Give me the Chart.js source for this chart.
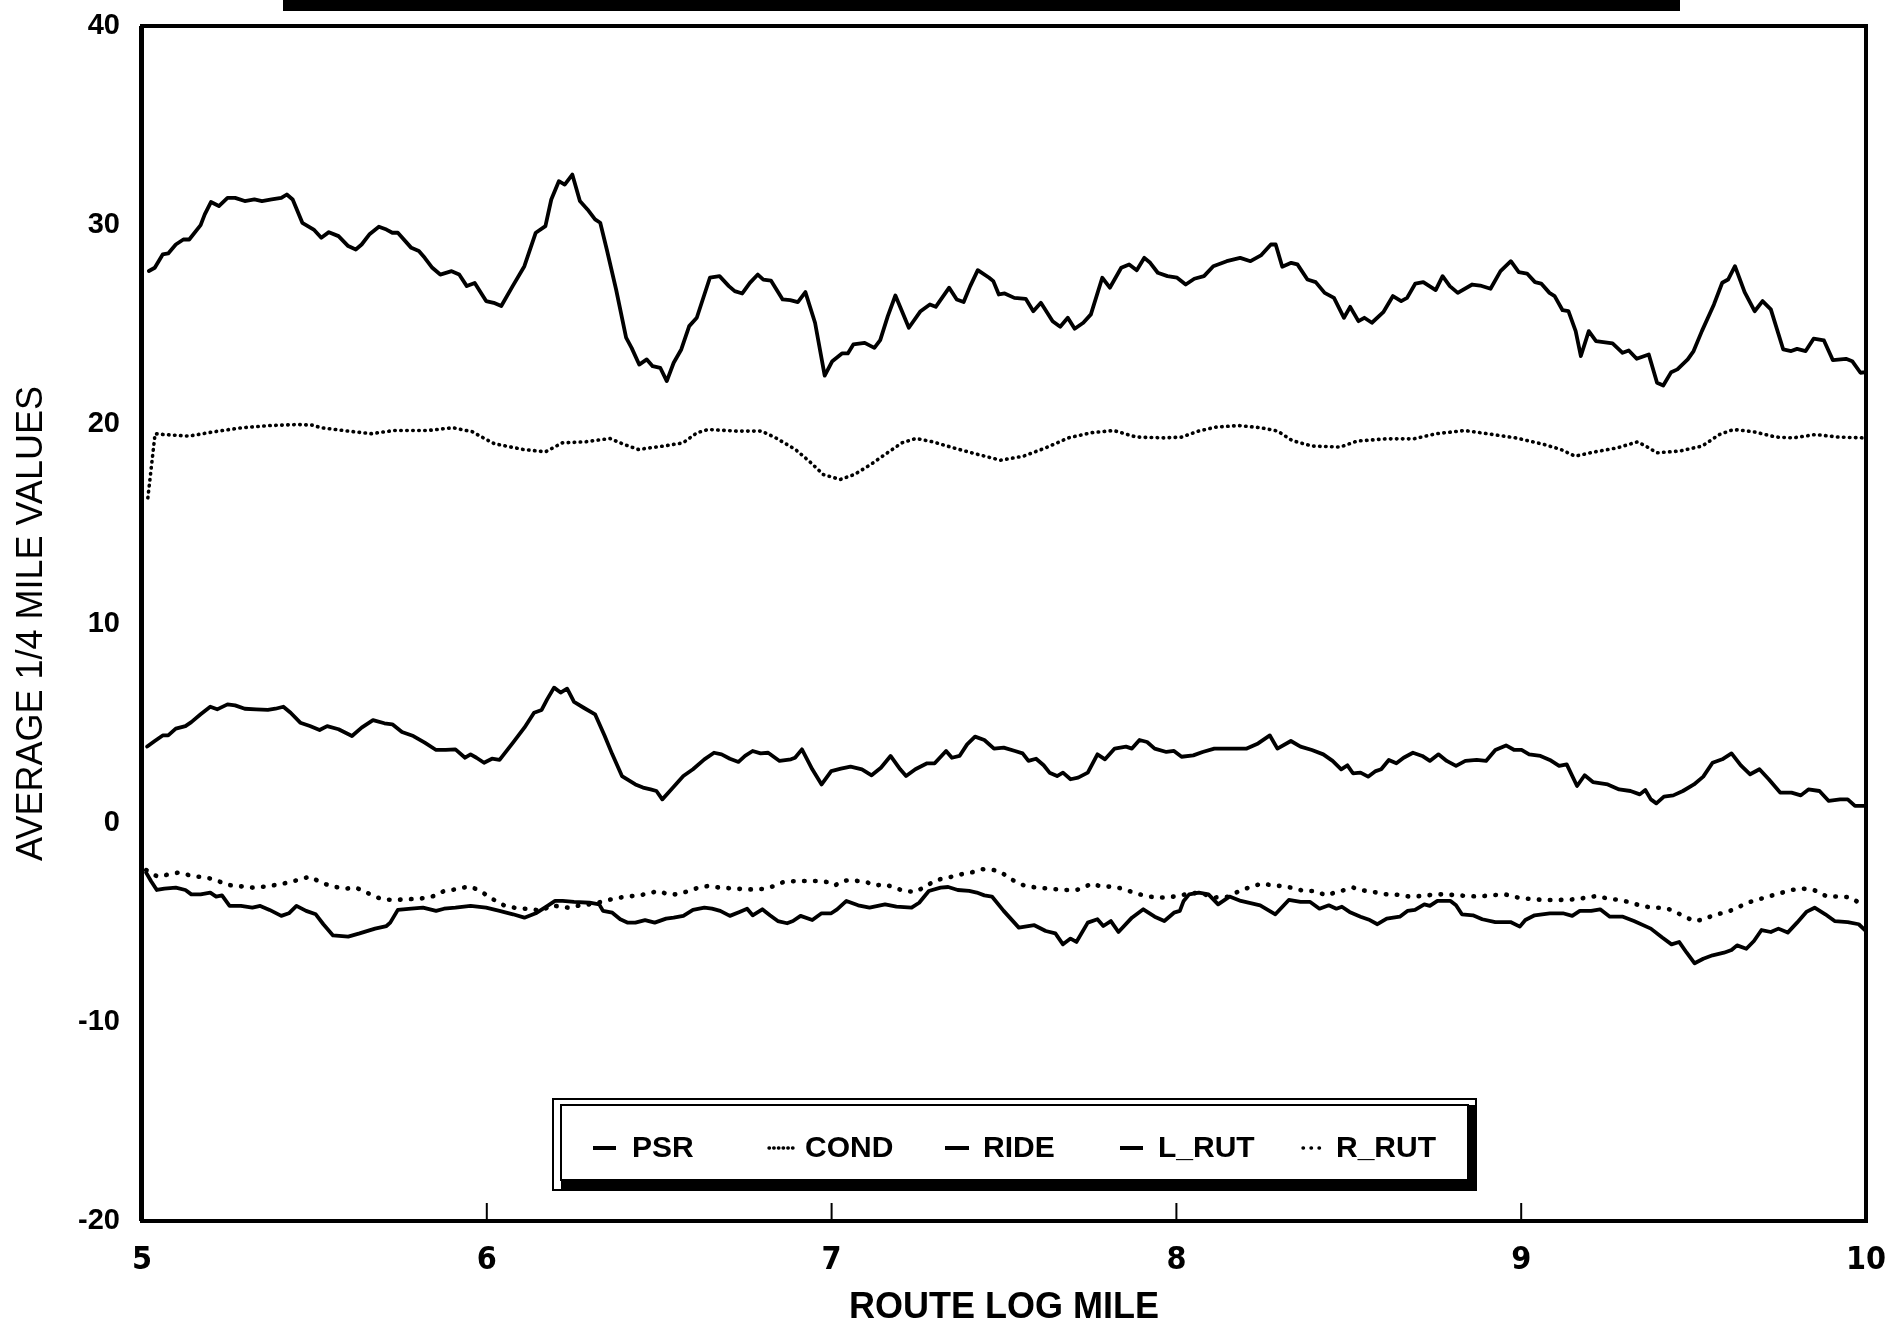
<!DOCTYPE html>
<html><head><meta charset="utf-8">
<script src="https://cdn.jsdelivr.net/npm/chart.js@4.4.1/dist/chart.umd.min.js"></script>
<style>html,body{margin:0;padding:0;background:#fff;}#wrap{width:1887px;height:1330px;position:relative;}canvas{display:block;}</style>
</head><body><div id="wrap"><canvas id="c" width="1887" height="1330"></canvas></div>
<script>
const seriesNames = ['PSR', 'COND', 'RIDE', 'L_RUT', 'R_RUT'];
const xTickValues = [5, 6, 7, 8, 9, 10];
const yTickValues = [-20, -10, 0, 10, 20, 30, 40];
const xAxisTitle = 'ROUTE LOG MILE';
const yAxisTitle = 'AVERAGE 1/4 MILE VALUES';

const psrMiles = [5.02,5.037,5.06,5.076,5.098,5.12,5.137,5.17,5.182,5.2,5.223,5.248,5.27,5.298,5.326,5.348,5.376,5.404,5.42,5.437,5.465,5.498,5.52,5.542,5.57,5.598,5.62,5.637,5.659,5.687,5.709,5.726,5.742,5.781,5.803,5.82,5.842,5.865,5.898,5.92,5.942,5.965,5.998,6.02,6.042,6.075,6.109,6.142,6.17,6.187,6.209,6.226,6.248,6.27,6.292,6.314,6.329,6.348,6.375,6.404,6.42,6.442,6.464,6.481,6.503,6.522,6.542,6.564,6.587,6.609,6.647,6.675,6.702,6.719,6.741,6.763,6.786,6.802,6.824,6.858,6.88,6.902,6.924,6.952,6.98,7.002,7.03,7.047,7.063,7.096,7.124,7.141,7.163,7.185,7.202,7.224,7.258,7.285,7.302,7.341,7.363,7.383,7.402,7.424,7.457,7.469,7.485,7.502,7.53,7.563,7.585,7.607,7.641,7.663,7.685,7.705,7.73,7.752,7.785,7.807,7.84,7.863,7.885,7.907,7.924,7.946,7.974,8.002,8.027,8.052,8.08,8.107,8.146,8.185,8.215,8.245,8.274,8.288,8.307,8.333,8.351,8.38,8.404,8.43,8.457,8.486,8.504,8.528,8.545,8.567,8.6,8.628,8.652,8.669,8.693,8.716,8.752,8.772,8.793,8.816,8.858,8.881,8.911,8.94,8.97,8.993,9.017,9.04,9.058,9.082,9.097,9.12,9.137,9.158,9.173,9.196,9.217,9.265,9.294,9.312,9.335,9.37,9.394,9.412,9.435,9.453,9.483,9.5,9.524,9.559,9.583,9.6,9.62,9.648,9.677,9.7,9.724,9.76,9.783,9.8,9.825,9.848,9.878,9.904,9.942,9.96,9.984,10.0];
const psrValues = [27.7,27.86,28.53,28.58,29.03,29.28,29.28,30.0,30.54,31.16,30.96,31.37,31.37,31.21,31.29,31.21,31.29,31.37,31.54,31.29,30.12,29.78,29.37,29.65,29.45,28.95,28.78,29.03,29.53,29.92,29.78,29.62,29.62,28.86,28.7,28.36,27.86,27.52,27.69,27.52,26.94,27.1,26.19,26.1,25.94,26.94,27.94,29.62,29.95,31.29,32.21,32.04,32.54,31.21,30.79,30.29,30.12,28.78,26.77,24.35,23.84,23.0,23.26,22.92,22.84,22.17,23.09,23.76,24.93,25.35,27.36,27.44,26.94,26.69,26.57,27.1,27.52,27.27,27.22,26.27,26.24,26.14,26.64,25.1,22.45,23.17,23.56,23.56,24.01,24.09,23.84,24.23,25.43,26.47,25.77,24.85,25.68,26.02,25.9,26.86,26.27,26.14,26.94,27.74,27.36,27.19,26.52,26.57,26.35,26.3,25.68,26.1,25.18,24.9,25.35,24.8,25.1,25.52,27.36,26.86,27.86,28.03,27.74,28.36,28.11,27.61,27.44,27.36,27.02,27.31,27.44,27.94,28.19,28.36,28.19,28.48,29.03,29.03,27.91,28.11,28.03,27.27,27.14,26.6,26.35,25.35,25.9,25.18,25.35,25.1,25.63,26.44,26.19,26.35,27.07,27.14,26.74,27.44,26.94,26.6,27.02,26.97,26.81,27.69,28.19,27.64,27.57,27.14,27.07,26.6,26.44,25.73,25.68,24.68,23.43,24.68,24.18,24.06,23.59,23.71,23.29,23.51,22.09,21.95,22.62,22.76,23.26,23.68,24.68,26.02,27.11,27.27,27.94,26.64,25.68,26.19,25.77,23.76,23.68,23.79,23.68,24.3,24.21,23.22,23.29,23.17,22.59,22.62];

const condMiles = [5.017,5.038,5.062,5.136,5.209,5.29,5.372,5.453,5.494,5.519,5.584,5.665,5.73,5.828,5.901,5.958,5.99,6.023,6.105,6.17,6.219,6.284,6.357,6.398,6.439,6.512,6.569,6.61,6.642,6.724,6.797,6.838,6.895,6.935,6.976,7.025,7.066,7.114,7.155,7.204,7.245,7.294,7.359,7.424,7.49,7.556,7.621,7.687,7.753,7.818,7.884,7.966,8.015,8.064,8.114,8.18,8.245,8.294,8.335,8.393,8.475,8.524,8.606,8.688,8.754,8.836,8.902,8.984,9.066,9.115,9.156,9.214,9.279,9.337,9.361,9.394,9.46,9.525,9.575,9.616,9.673,9.739,9.788,9.854,9.919,9.993];
const condValues = [16.31,19.53,19.49,19.41,19.63,19.83,19.94,19.99,19.96,19.83,19.69,19.53,19.69,19.69,19.83,19.63,19.32,19.02,18.74,18.62,19.07,19.12,19.29,18.99,18.74,18.91,19.07,19.58,19.74,19.66,19.66,19.32,18.74,18.15,17.48,17.23,17.48,17.99,18.49,19.07,19.29,19.12,18.79,18.49,18.2,18.4,18.82,19.32,19.58,19.69,19.36,19.32,19.36,19.66,19.86,19.94,19.83,19.66,19.19,18.91,18.86,19.16,19.27,19.27,19.53,19.69,19.53,19.32,18.99,18.74,18.4,18.62,18.82,19.12,18.91,18.57,18.66,18.91,19.49,19.74,19.63,19.36,19.32,19.49,19.36,19.32];

const rideMiles = [5.015,5.037,5.06,5.076,5.098,5.126,5.143,5.17,5.198,5.218,5.248,5.27,5.298,5.331,5.365,5.387,5.41,5.431,5.459,5.487,5.515,5.537,5.57,5.609,5.637,5.67,5.703,5.726,5.754,5.787,5.82,5.853,5.881,5.909,5.937,5.953,5.97,5.992,6.015,6.037,6.076,6.109,6.137,6.159,6.175,6.195,6.214,6.233,6.253,6.281,6.314,6.342,6.364,6.392,6.431,6.453,6.475,6.492,6.509,6.531,6.57,6.598,6.631,6.659,6.681,6.705,6.73,6.749,6.771,6.794,6.816,6.849,6.882,6.894,6.914,6.944,6.971,6.999,7.027,7.055,7.088,7.116,7.143,7.171,7.199,7.216,7.243,7.277,7.299,7.332,7.349,7.371,7.393,7.416,7.443,7.471,7.499,7.532,7.554,7.571,7.593,7.615,7.632,7.654,7.671,7.693,7.715,7.743,7.771,7.793,7.821,7.854,7.871,7.893,7.915,7.937,7.971,7.993,8.015,8.049,8.076,8.11,8.154,8.204,8.237,8.271,8.293,8.332,8.36,8.393,8.426,8.453,8.478,8.496,8.512,8.534,8.556,8.578,8.594,8.616,8.638,8.659,8.686,8.713,8.735,8.76,8.784,8.811,8.838,8.871,8.898,8.925,8.956,8.98,9.001,9.023,9.056,9.083,9.11,9.132,9.162,9.184,9.208,9.251,9.284,9.317,9.344,9.36,9.376,9.392,9.414,9.441,9.469,9.501,9.528,9.555,9.583,9.61,9.637,9.664,9.691,9.718,9.751,9.784,9.811,9.833,9.865,9.892,9.925,9.947,9.968,10.0];
const rideValues = [3.82,4.1,4.38,4.38,4.72,4.85,5.05,5.44,5.82,5.69,5.94,5.89,5.72,5.69,5.66,5.72,5.82,5.52,5.02,4.85,4.65,4.85,4.69,4.35,4.77,5.15,4.99,4.94,4.55,4.35,4.02,3.65,3.65,3.68,3.26,3.43,3.26,3.01,3.21,3.15,4.02,4.77,5.52,5.66,6.19,6.78,6.53,6.73,6.06,5.77,5.44,4.35,3.43,2.34,1.92,1.76,1.67,1.59,1.17,1.59,2.34,2.68,3.18,3.51,3.43,3.21,3.05,3.35,3.6,3.48,3.51,3.1,3.18,3.26,3.68,2.68,1.92,2.59,2.71,2.81,2.68,2.38,2.76,3.35,2.68,2.34,2.68,2.98,2.98,3.6,3.26,3.35,3.93,4.32,4.15,3.72,3.77,3.6,3.48,3.1,3.21,2.88,2.51,2.34,2.51,2.18,2.26,2.51,3.43,3.18,3.72,3.82,3.72,4.15,4.05,3.72,3.55,3.6,3.31,3.38,3.55,3.72,3.72,3.72,3.98,4.38,3.72,4.1,3.82,3.65,3.43,3.1,2.68,2.88,2.48,2.51,2.31,2.59,2.68,3.15,2.98,3.26,3.51,3.35,3.1,3.43,3.1,2.85,3.1,3.15,3.1,3.65,3.88,3.65,3.65,3.43,3.35,3.15,2.85,2.93,1.84,2.38,2.04,1.92,1.67,1.59,1.42,1.64,1.17,0.97,1.31,1.37,1.59,1.92,2.31,3.01,3.18,3.48,2.88,2.43,2.68,2.18,1.51,1.51,1.37,1.67,1.59,1.09,1.17,1.17,0.84,0.84];

const lRutMiles = [5.012,5.026,5.043,5.065,5.098,5.126,5.143,5.17,5.198,5.215,5.232,5.254,5.287,5.32,5.343,5.37,5.404,5.426,5.448,5.476,5.504,5.526,5.554,5.598,5.631,5.676,5.709,5.72,5.742,5.781,5.815,5.853,5.876,5.909,5.953,5.998,6.037,6.076,6.109,6.142,6.176,6.198,6.22,6.253,6.298,6.326,6.337,6.364,6.387,6.409,6.431,6.459,6.487,6.52,6.542,6.57,6.598,6.631,6.653,6.677,6.705,6.733,6.755,6.771,6.799,6.821,6.844,6.871,6.888,6.91,6.944,6.971,6.999,7.016,7.043,7.077,7.11,7.155,7.188,7.232,7.254,7.282,7.316,7.338,7.366,7.399,7.421,7.443,7.465,7.499,7.543,7.588,7.621,7.649,7.671,7.693,7.71,7.743,7.771,7.788,7.81,7.832,7.871,7.904,7.937,7.965,7.993,8.01,8.021,8.037,8.065,8.093,8.121,8.154,8.187,8.243,8.287,8.326,8.36,8.388,8.415,8.442,8.464,8.48,8.502,8.534,8.561,8.583,8.61,8.648,8.67,8.692,8.719,8.735,8.757,8.795,8.811,8.828,8.86,8.887,8.925,8.969,8.996,9.012,9.039,9.083,9.121,9.148,9.17,9.203,9.229,9.257,9.295,9.327,9.376,9.409,9.436,9.458,9.48,9.503,9.528,9.555,9.588,9.61,9.626,9.653,9.675,9.697,9.724,9.746,9.773,9.8,9.827,9.851,9.882,9.909,9.947,9.979,10.0];
const lRutValues = [-2.51,-2.93,-3.38,-3.31,-3.26,-3.38,-3.6,-3.6,-3.51,-3.71,-3.65,-4.18,-4.18,-4.27,-4.18,-4.38,-4.68,-4.55,-4.18,-4.43,-4.6,-5.1,-5.66,-5.72,-5.56,-5.32,-5.19,-5.02,-4.38,-4.32,-4.27,-4.43,-4.32,-4.27,-4.18,-4.27,-4.43,-4.6,-4.77,-4.55,-4.18,-3.93,-3.93,-3.98,-4.02,-4.1,-4.43,-4.52,-4.85,-5.02,-5.02,-4.89,-5.02,-4.82,-4.77,-4.68,-4.38,-4.27,-4.32,-4.43,-4.68,-4.48,-4.32,-4.65,-4.35,-4.65,-4.94,-5.05,-4.94,-4.68,-4.89,-4.55,-4.55,-4.35,-3.93,-4.15,-4.27,-4.1,-4.22,-4.27,-4.02,-3.43,-3.26,-3.23,-3.38,-3.43,-3.51,-3.65,-3.71,-4.43,-5.27,-5.15,-5.44,-5.56,-6.11,-5.82,-5.99,-5.02,-4.85,-5.19,-4.94,-5.49,-4.77,-4.35,-4.72,-4.94,-4.52,-4.43,-3.93,-3.6,-3.51,-3.6,-4.1,-3.71,-3.93,-4.15,-4.6,-3.88,-3.98,-3.98,-4.32,-4.15,-4.32,-4.22,-4.48,-4.72,-4.89,-5.1,-4.82,-4.72,-4.43,-4.38,-4.1,-4.18,-3.93,-3.93,-4.15,-4.6,-4.65,-4.85,-4.99,-4.99,-5.22,-4.89,-4.65,-4.55,-4.55,-4.68,-4.43,-4.43,-4.35,-4.72,-4.72,-4.94,-5.32,-5.77,-6.11,-5.99,-6.53,-7.06,-6.83,-6.66,-6.53,-6.39,-6.16,-6.33,-5.94,-5.39,-5.49,-5.32,-5.52,-5.02,-4.48,-4.27,-4.6,-4.94,-4.99,-5.1,-5.44];

const rRutMiles = [5.012,5.045,5.104,5.148,5.187,5.215,5.243,5.27,5.298,5.32,5.359,5.398,5.431,5.465,5.487,5.52,5.553,5.592,5.62,5.648,5.676,5.698,5.731,5.765,5.809,5.848,5.876,5.909,5.931,5.953,5.981,6.003,6.026,6.053,6.081,6.109,6.131,6.159,6.187,6.237,6.27,6.298,6.331,6.353,6.387,6.409,6.442,6.47,6.498,6.526,6.553,6.586,6.614,6.642,6.675,6.72,6.755,6.783,6.81,6.833,6.86,6.899,6.932,6.96,6.988,7.01,7.032,7.055,7.077,7.105,7.127,7.155,7.182,7.21,7.243,7.277,7.304,7.338,7.377,7.41,7.438,7.471,7.493,7.521,7.549,7.571,7.599,7.627,7.654,7.682,7.71,7.732,7.754,7.782,7.815,7.843,7.876,7.91,7.943,7.965,7.993,8.026,8.065,8.11,8.154,8.182,8.21,8.249,8.277,8.304,8.332,8.371,8.398,8.436,8.464,8.496,8.513,8.534,8.572,8.61,8.632,8.676,8.714,8.752,8.779,8.817,8.844,8.876,8.909,8.953,8.99,9.034,9.072,9.11,9.154,9.192,9.219,9.251,9.284,9.311,9.349,9.382,9.408,9.436,9.466,9.501,9.534,9.555,9.599,9.632,9.664,9.697,9.729,9.784,9.816,9.849,9.887,9.93,9.957,9.979];
const rRutValues = [-2.38,-2.71,-2.51,-2.68,-2.76,-2.88,-3.1,-3.18,-3.21,-3.26,-3.21,-3.1,-2.98,-2.81,-2.71,-3.01,-3.21,-3.31,-3.26,-3.48,-3.71,-3.85,-3.88,-3.85,-3.81,-3.68,-3.43,-3.35,-3.26,-3.21,-3.43,-3.68,-3.93,-4.18,-4.27,-4.32,-4.35,-4.43,-4.15,-4.27,-4.15,-4.1,-3.98,-3.88,-3.76,-3.71,-3.65,-3.55,-3.43,-3.6,-3.6,-3.43,-3.26,-3.18,-3.26,-3.31,-3.35,-3.35,-3.31,-3.18,-2.98,-2.93,-2.93,-2.93,-2.98,-3.15,-2.93,-2.88,-2.93,-3.01,-3.15,-3.1,-3.26,-3.43,-3.48,-3.15,-2.88,-2.76,-2.59,-2.48,-2.34,-2.38,-2.51,-2.84,-3.1,-3.21,-3.26,-3.31,-3.35,-3.38,-3.38,-3.26,-3.05,-3.21,-3.21,-3.31,-3.51,-3.68,-3.76,-3.76,-3.71,-3.6,-3.51,-3.76,-3.71,-3.43,-3.26,-3.05,-3.15,-3.18,-3.26,-3.43,-3.43,-3.65,-3.48,-3.35,-3.26,-3.38,-3.48,-3.6,-3.6,-3.71,-3.68,-3.6,-3.6,-3.65,-3.68,-3.71,-3.65,-3.6,-3.76,-3.85,-3.88,-3.88,-3.85,-3.76,-3.68,-3.81,-3.88,-3.98,-4.18,-4.27,-4.27,-4.38,-4.65,-4.94,-4.85,-4.65,-4.48,-4.22,-3.98,-3.81,-3.65,-3.38,-3.31,-3.38,-3.71,-3.71,-3.76,-4.02];

function pts(xs, ys) { return xs.map((x, i) => ({ x: x, y: ys[i] })); }

const solid = { borderWidth: 3.8, borderDash: [] };
const denseDots = { borderWidth: 3.6, borderDash: [0.5, 5.5] };
const sparseDots = { borderWidth: 4.6, borderDash: [0.5, 10.5] };

const datasets = [
  Object.assign({ label: seriesNames[0], data: pts(psrMiles, psrValues) }, solid),
  Object.assign({ label: seriesNames[1], data: pts(condMiles, condValues) }, denseDots),
  Object.assign({ label: seriesNames[2], data: pts(rideMiles, rideValues) }, solid),
  Object.assign({ label: seriesNames[3], data: pts(lRutMiles, lRutValues) }, solid),
  Object.assign({ label: seriesNames[4], data: pts(rRutMiles, rRutValues) }, sparseDots)
].map(d => Object.assign(d, {
  borderColor: '#000', backgroundColor: '#000', pointRadius: 0, tension: 0,
  borderCapStyle: 'round', borderJoinStyle: 'round', fill: false
}));

const FONT_FAMILY = '"Liberation Sans", Arial, sans-serif';
const NARROW = '"Liberation Sans Narrow", "DejaVu Sans Condensed", "Liberation Sans", sans-serif';

const framePlugin = {
  id: 'frame',
  beforeDraw(chart) {
    const ctx = chart.ctx;
    ctx.save();
    ctx.fillStyle = '#fff';
    ctx.fillRect(0, 0, chart.width, chart.height);
    ctx.fillStyle = '#000';
    ctx.fillRect(283, 0, 1397, 11);
    ctx.restore();
  },
  afterDatasetsDraw(chart) {
    const ctx = chart.ctx;
    const a = chart.chartArea;
    const xs = chart.scales.x;
    ctx.save();
    ctx.strokeStyle = '#000';
    ctx.lineWidth = 2;
    xTickValues.slice(1, -1).forEach(v => {
      const px = xs.getPixelForValue(v);
      ctx.beginPath();
      ctx.moveTo(px, a.bottom);
      ctx.lineTo(px, a.bottom - 18);
      ctx.stroke();
    });
    ctx.lineWidth = 4;
    ctx.strokeRect(a.left, a.top, a.right - a.left, a.bottom - a.top);
    ctx.lineWidth = 2;
    ctx.beginPath();
    ctx.moveTo(a.left - 2, a.top);
    ctx.lineTo(a.left - 2, a.bottom);
    ctx.stroke();

    // legend box
    const L = 553, T = 1099, R = 1476, B = 1190;
    ctx.fillStyle = '#fff';
    ctx.fillRect(L, T, R - L, B - T);
    ctx.strokeStyle = '#000';
    ctx.lineWidth = 2;
    ctx.strokeRect(L, T, R - L, B - T);
    ctx.strokeRect(L + 8, T + 6, R - L - 16, B - T - 16);
    ctx.fillStyle = '#000';
    ctx.fillRect(L + 8, B - 10, R - L - 8, 10);
    ctx.fillRect(R - 8, T + 6, 8, B - T - 6);

    const entries = [
      { s0: 593, s1: 616, tx: 632 },
      { s0: 769, s1: 793, tx: 805 },
      { s0: 945, s1: 969, tx: 983 },
      { s0: 1120, s1: 1143, tx: 1158 },
      { s0: 1303, s1: 1326, tx: 1336 }
    ];
    const cy = 1148;
    chart.data.datasets.forEach((ds, i) => {
      const e = entries[i];
      ctx.strokeStyle = '#000';
      ctx.lineWidth = ds.borderDash.length ? 3.4 : 4;
      ctx.lineCap = ds.borderDash.length ? 'round' : 'butt';
      ctx.setLineDash(ds.borderDash.length ? [0.5, ds.borderDash[1] < 7 ? 4.2 : 7.5] : []);
      ctx.beginPath();
      ctx.moveTo(e.s0, cy);
      ctx.lineTo(e.s1, cy);
      ctx.stroke();
      ctx.setLineDash([]);
      ctx.fillStyle = '#000';
      ctx.font = 'bold 30px ' + FONT_FAMILY;
      ctx.textBaseline = 'middle';
      ctx.textAlign = 'left';
      ctx.fillText(ds.label, e.tx, cy + 1);
    });
    ctx.restore();
  }
};

function zeroPad(s) { s.paddingLeft = 0; s.paddingRight = 0; s.paddingTop = 0; s.paddingBottom = 0; }

new Chart(document.getElementById('c'), {
  type: 'line',
  data: { datasets: datasets },
  options: {
    responsive: false,
    animation: false,
    devicePixelRatio: 1,
    layout: { padding: { top: 26, right: 21, left: 0, bottom: 0 } },
    plugins: { legend: { display: false }, tooltip: { enabled: false }, title: { display: false } },
    scales: {
      x: {
        type: 'linear', min: 5, max: 10,
        afterBuildTicks: s => { s.ticks = xTickValues.map(v => ({ value: v })); },
        afterFit: s => { s.height = 109; zeroPad(s); },
        grid: { display: false, drawTicks: false },
        border: { display: false },
        ticks: { color: '#000', padding: 20, maxRotation: 0, autoSkip: false,
          font: { family: NARROW, size: 32, weight: 'bold' } },
        title: { display: true, text: xAxisTitle, color: '#000',
          font: { family: FONT_FAMILY, size: 36, weight: 'bold' }, padding: { top: 0, bottom: 0 } }
      },
      y: {
        type: 'linear', min: -20, max: 40,
        afterBuildTicks: s => { s.ticks = yTickValues.map(v => ({ value: v })); },
        afterFit: s => { s.width = 142; zeroPad(s); },
        grid: { display: false, drawTicks: false },
        border: { display: false },
        ticks: { color: '#000', padding: 22, autoSkip: false,
          font: { family: FONT_FAMILY, size: 29, weight: 'bold' } },
        title: { display: true, text: yAxisTitle, color: '#000',
          font: { family: FONT_FAMILY, size: 36, weight: 'normal' }, padding: { top: 10, bottom: 0 } }
      }
    }
  },
  plugins: [framePlugin]
});
</script>
</body></html>
